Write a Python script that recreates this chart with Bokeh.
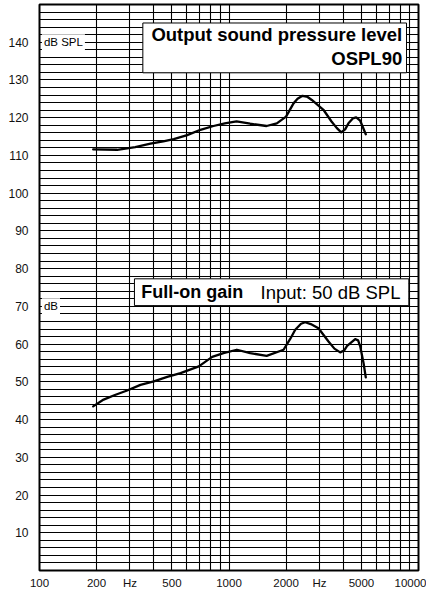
from bokeh.plotting import figure
from bokeh.models import Range1d, FixedTicker, BoxAnnotation, Label, BasicTickFormatter
from bokeh.embed import file_html
from bokeh.resources import INLINE

# ---- data ----
ospl_freq = [192, 257, 320, 385, 450, 511, 602, 707, 828, 950, 1096, 1294, 1578,
             1788, 2000, 2190, 2300, 2443, 2600, 2735, 3150, 3475, 3700, 3910, 4100,
             4270, 4500, 4690, 4925, 5270]
ospl_db = [111.6, 111.5, 112.2, 113.1, 113.7, 114.3, 115.4, 116.8, 117.8, 118.5, 119.0,
           118.4, 117.8, 118.5, 120.3, 123.8, 125.0, 125.8, 125.5, 124.7, 122.1, 119.0,
           117.3, 116.1, 116.9, 118.5, 119.8, 120.1, 119.2, 115.6]

gain_freq = [192, 218, 250, 290, 341, 401, 472, 555, 693, 815, 935, 1100, 1294, 1580,
             1940, 2100, 2236, 2400, 2524, 2700, 2966, 3350, 3600, 3862, 4050, 4200,
             4634, 4800, 4925, 5128, 5270]
gain_db = [43.5, 45.3, 46.5, 47.7, 49.2, 50.1, 51.3, 52.3, 54.1, 56.6, 57.6, 58.5, 57.6,
           56.9, 58.5, 61.3, 63.8, 65.4, 65.8, 65.3, 64.2, 60.7, 58.8, 57.8, 58.3, 59.5,
           61.3, 61.0, 59.4, 55.0, 51.2]

x_ticks = [100, 200, 300, 500, 1000, 2000, 3000, 5000, 10000]
x_tick_labels = ["100", "200", "Hz", "500", "1000", "2000", "Hz", "5000", "10000"]
y_ticks = [10, 20, 30, 40, 50, 60, 70, 80, 90, 100, 110, 120, 130, 140]
x_grid = [100, 200, 300, 400, 500, 600, 700, 800, 900,
          1000, 2000, 3000, 4000, 5000, 6000, 7000, 8000, 9000, 10000]
y_grid = [0, 2, 4, 6, 8, 10, 12, 14, 16, 18, 20, 22, 24, 26, 28, 30, 32, 34, 36, 38,
          40, 42, 44, 46, 48, 50, 52, 54, 56, 58, 60, 62, 64, 66, 68, 70, 72, 74, 76, 78,
          80, 82, 84, 86, 88, 90, 92, 94, 96, 98, 100, 102, 104, 106, 108, 110, 112, 114,
          116, 118, 120, 122, 124, 126, 128, 130, 132, 134, 136, 138, 140, 142, 144, 146,
          148, 150]

FONT = "Liberation Sans"

p = figure(width=426, height=591, x_axis_type="log", title=None,
           x_range=Range1d(100, 10000), y_range=Range1d(0, 150),
           output_backend="svg", toolbar_location=None,
           min_border_left=39, min_border_right=8, min_border_top=4, min_border_bottom=20)

p.background_fill_color = "white"
p.border_fill_color = "white"
p.outline_line_color = "black"
p.outline_line_width = 2

# grid
p.xgrid.ticker = FixedTicker(ticks=x_grid)
p.ygrid.ticker = FixedTicker(ticks=y_grid)
for g in (p.xgrid, p.ygrid):
    g.grid_line_color = "black"
    g.grid_line_width = 1.1
    g.grid_line_alpha = 1.0

# axes
p.xaxis.ticker = FixedTicker(ticks=x_ticks)
p.xaxis.major_label_overrides = {t: l for t, l in zip(x_ticks, x_tick_labels)}
p.yaxis.ticker = FixedTicker(ticks=y_ticks)
p.yaxis.formatter = BasicTickFormatter()
for ax in (p.xaxis[0], p.yaxis[0]):
    ax.axis_line_color = None
    ax.major_tick_line_color = None
    ax.minor_tick_line_color = None
    ax.major_tick_out = 0
    ax.major_tick_in = 0
    ax.minor_tick_out = 0
    ax.minor_tick_in = 0
    ax.major_label_text_font = FONT
    ax.major_label_text_color = "#111111"
p.xaxis.major_label_text_font_size = "11.5px"
p.xaxis.major_label_standoff = 6
p.yaxis.major_label_text_font_size = "12px"
p.yaxis.major_label_standoff = 11

# curves
p.line(ospl_freq, ospl_db, line_color="black", line_width=2.3, line_join="round", line_cap="round")
p.line(gain_freq, gain_db, line_color="black", line_width=2.3, line_join="round", line_cap="round")

# title boxes
p.add_layout(BoxAnnotation(left=351, right=8646, bottom=131.9, top=145.1,
                           fill_color="white", fill_alpha=1.0,
                           line_color="black", line_width=1, line_alpha=1.0))
p.add_layout(Label(x=8204, y=142.0, text="Output sound pressure level",
                   text_align="right", text_baseline="middle",
                   text_font=FONT, text_font_style="bold", text_font_size="18.5px",
                   text_color="black"))
p.add_layout(Label(x=8204, y=135.6, text="OSPL90",
                   text_align="right", text_baseline="middle",
                   text_font=FONT, text_font_style="bold", text_font_size="18.5px",
                   text_color="black"))

p.add_layout(BoxAnnotation(left=317, right=8890, bottom=70.2, top=77.3,
                           fill_color="white", fill_alpha=1.0,
                           line_color="black", line_width=1, line_alpha=1.0))
p.add_layout(Label(x=344, y=73.8, text="Full-on gain",
                   text_align="left", text_baseline="middle",
                   text_font=FONT, text_font_style="bold", text_font_size="18px",
                   text_color="black"))
p.add_layout(Label(x=8035, y=73.8, text="Input: 50 dB SPL",
                   text_align="right", text_baseline="middle",
                   text_font=FONT, text_font_size="18.5px",
                   text_color="black"))

# unit labels
p.add_layout(Label(x=103, y=140, text="dB SPL", text_align="left", text_baseline="middle",
                   text_font=FONT, text_font_size="11.5px", text_color="black",
                   background_fill_color="white", background_fill_alpha=1.0, padding=2))
p.add_layout(Label(x=103, y=70, text="dB", text_align="left", text_baseline="middle",
                   text_font=FONT, text_font_size="11.5px", text_color="black",
                   background_fill_color="white", background_fill_alpha=1.0, padding=2))

open("out.html", "w").write(file_html(p, INLINE))
